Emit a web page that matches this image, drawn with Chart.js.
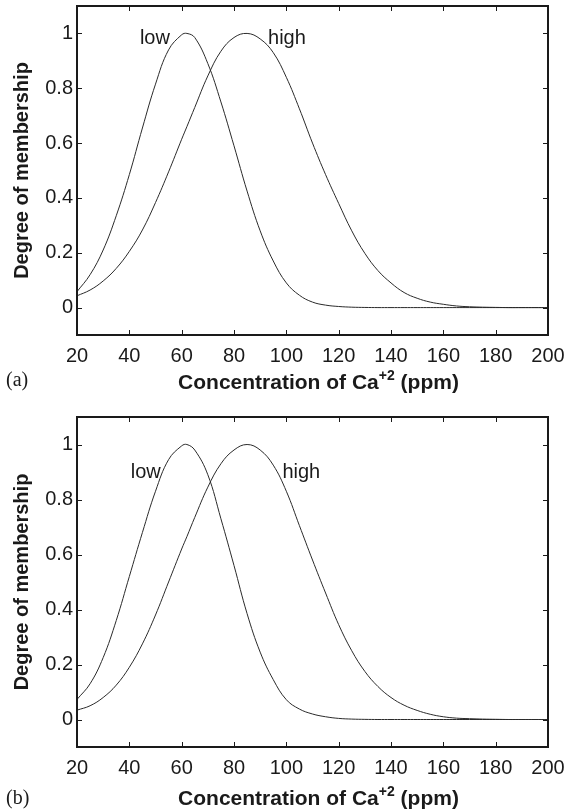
<!DOCTYPE html>
<html>
<head>
<meta charset="utf-8">
<title>Membership functions for Ca+2 concentration</title>
<script src="https://cdn.jsdelivr.net/npm/chart.js@4.4.1/dist/chart.umd.min.js"></script>
<style>
  body { margin: 0; background: #fff; }
  canvas { display: block; }
</style>
</head>
<body>
<canvas id="panelA" width="569" height="400"></canvas>
<canvas id="panelB" width="569" height="411"></canvas>
<script>
// concentration samples (ppm)
const ppm = [20, 25, 30, 35, 40, 45, 50, 55, 60, 62, 65, 70, 75, 80, 85, 90, 95, 100, 105, 110,
  115, 120, 125, 130, 135, 140, 145, 150, 155, 160, 165, 170, 175, 180, 185, 190, 195, 200];

// panel (a)
const lowA = [0.058, 0.12, 0.21, 0.335, 0.485, 0.655, 0.815, 0.94, 0.995, 1.0, 0.985, 0.89, 0.75, 0.59,
  0.425, 0.28, 0.17, 0.09, 0.045, 0.02, 0.009, 0.004, 0.0015, 0.0005,
  0, 0, 0, 0, 0, 0, 0, 0, 0, 0, 0, 0, 0, 0];
const highA = [0.043, 0.064, 0.097, 0.143, 0.205, 0.283, 0.383, 0.495, 0.614, 0.66, 0.73, 0.845, 0.935, 0.985,
  1.0, 0.98, 0.93, 0.84, 0.725, 0.6, 0.485, 0.38, 0.28, 0.198, 0.135, 0.09, 0.055, 0.034,
  0.02, 0.012, 0.006, 0.003, 0.0015, 0.0007, 0, 0, 0, 0];

// panel (b)
const lowB = [0.073, 0.13, 0.225, 0.36, 0.52, 0.68, 0.83, 0.945, 0.995, 1.0, 0.98, 0.89, 0.73, 0.56,
  0.385, 0.245, 0.145, 0.072, 0.038, 0.02, 0.01, 0.004, 0.0015, 0.0005,
  0, 0, 0, 0, 0, 0, 0, 0, 0, 0, 0, 0, 0, 0];
const highB = [0.034, 0.05, 0.08, 0.125, 0.19, 0.275, 0.38, 0.5, 0.62, 0.665, 0.735, 0.845, 0.93, 0.98,
  1.0, 0.98, 0.925, 0.83, 0.705, 0.58, 0.46, 0.345, 0.25, 0.175, 0.12, 0.08, 0.052, 0.033,
  0.019, 0.01, 0.005, 0.003, 0.0015, 0.0007, 0, 0, 0, 0];

const xTicks = [20, 40, 60, 80, 100, 120, 140, 160, 180, 200];
const yTicks = [0, 0.2, 0.4, 0.6, 0.8, 1];

const INK = '#1a1a1a';
const SANS = '"Liberation Sans", Arial, Helvetica, sans-serif';
const SERIF = '"Liberation Serif", "Times New Roman", serif';

// box with inward ticks on all four sides, axis titles, curve names, panel tag
const framePlugin = {
  id: 'frame',
  afterDraw(chart, args, opts) {
    const { ctx, chartArea: a, scales: { x, y } } = chart;
    ctx.save();
    ctx.strokeStyle = INK;
    ctx.lineWidth = 1;
    ctx.beginPath();
    xTicks.forEach(v => {
      const px = Math.round(x.getPixelForValue(v)) + 0.5;
      ctx.moveTo(px, a.bottom); ctx.lineTo(px, a.bottom - 5);
      ctx.moveTo(px, a.top); ctx.lineTo(px, a.top + 5);
    });
    yTicks.forEach(v => {
      const py = Math.round(y.getPixelForValue(v)) + 0.5;
      ctx.moveTo(a.left, py); ctx.lineTo(a.left + 5, py);
      ctx.moveTo(a.right, py); ctx.lineTo(a.right - 5, py);
    });
    ctx.stroke();
    ctx.lineWidth = 2;
    ctx.strokeRect(a.left, a.top, a.right - a.left, a.bottom - a.top);

    ctx.fillStyle = INK;

    // curve names
    ctx.font = '20px ' + SANS;
    ctx.textBaseline = 'middle';
    ctx.textAlign = 'right';
    ctx.fillText('low', x.getPixelForValue(opts.lowAt[0]), y.getPixelForValue(opts.lowAt[1]));
    ctx.textAlign = 'left';
    ctx.fillText('high', x.getPixelForValue(opts.highAt[0]), y.getPixelForValue(opts.highAt[1]));

    // y title
    ctx.save();
    ctx.translate(22, (a.top + a.bottom) / 2);
    ctx.rotate(-Math.PI / 2);
    ctx.textAlign = 'center';
    ctx.font = 'bold 20px ' + SANS;
    ctx.fillText('Degree of membership', 0, 0);
    ctx.restore();

    // x title, charge written as superscript
    const main = 'bold 21px ' + SANS;
    const sup = 'bold 14px ' + SANS;
    const parts = [['Concentration of Ca', main, 0], ['+2', sup, -9], [' (ppm)', main, 0]];
    ctx.textAlign = 'left';
    ctx.textBaseline = 'alphabetic';
    let total = 0;
    parts.forEach(p => { ctx.font = p[1]; total += ctx.measureText(p[0]).width; });
    let cx = (a.left + a.right) / 2 + 6 - total / 2;
    parts.forEach(p => {
      ctx.font = p[1];
      ctx.fillText(p[0], cx, opts.titleBase + p[2]);
      cx += ctx.measureText(p[0]).width;
    });

    // panel tag
    ctx.font = '20px ' + SERIF;
    ctx.fillText(opts.tag, 6, opts.tagBase);
    ctx.restore();
  }
};

// the box is placed by layout padding only, so drop the label overhang padding
function noOverhang(s) {
  s.paddingTop = 0;
  s.paddingBottom = 0;
  s.paddingLeft = 0;
  s.paddingRight = 0;
}

function makePanel(id, low, high, cfg) {
  const tickFont = { family: SANS, size: 20 };
  return new Chart(document.getElementById(id), {
    type: 'line',
    data: {
      datasets: [
        { label: 'low', data: ppm.map((v, i) => ({ x: v, y: low[i] })) },
        { label: 'high', data: ppm.map((v, i) => ({ x: v, y: high[i] })) }
      ]
    },
    options: {
      responsive: false,
      animation: false,
      layout: { padding: { top: cfg.top, right: 21, left: 0, bottom: 0 } },
      elements: {
        point: { radius: 0 },
        line: { borderWidth: 1, borderColor: '#2a2a2a', tension: 0.4, fill: false }
      },
      plugins: {
        legend: { display: false },
        tooltip: { enabled: false },
        frame: cfg.frame
      },
      scales: {
        x: {
          type: 'linear', min: 20, max: 200,
          afterBuildTicks: s => { s.ticks = xTicks.map(v => ({ value: v })); },
          afterFit: s => { s.height = cfg.xHeight; noOverhang(s); },
          grid: { display: false, drawTicks: false },
          border: { display: false },
          ticks: { font: tickFont, color: INK, padding: 9, maxRotation: 0, autoSkip: false, callback: v => String(v) }
        },
        y: {
          min: -0.1, max: 1.1,
          afterBuildTicks: s => { s.ticks = yTicks.map(v => ({ value: v })); },
          afterFit: s => { s.width = 77; noOverhang(s); },
          grid: { display: false, drawTicks: false },
          border: { display: false },
          ticks: { font: tickFont, color: INK, padding: 4, callback: v => String(v) }
        }
      }
    },
    plugins: [framePlugin]
  });
}

makePanel('panelA', lowA, highA, {
  top: 6, xHeight: 65,
  frame: { lowAt: [55.5, 0.98], highAt: [93, 0.98], tag: '(a)', tagBase: 386, titleBase: 389 }
});
makePanel('panelB', lowB, highB, {
  top: 17, xHeight: 64,
  frame: { lowAt: [52, 0.9], highAt: [98.5, 0.9], tag: '(b)', tagBase: 404, titleBase: 405 }
});
</script>
</body>
</html>
